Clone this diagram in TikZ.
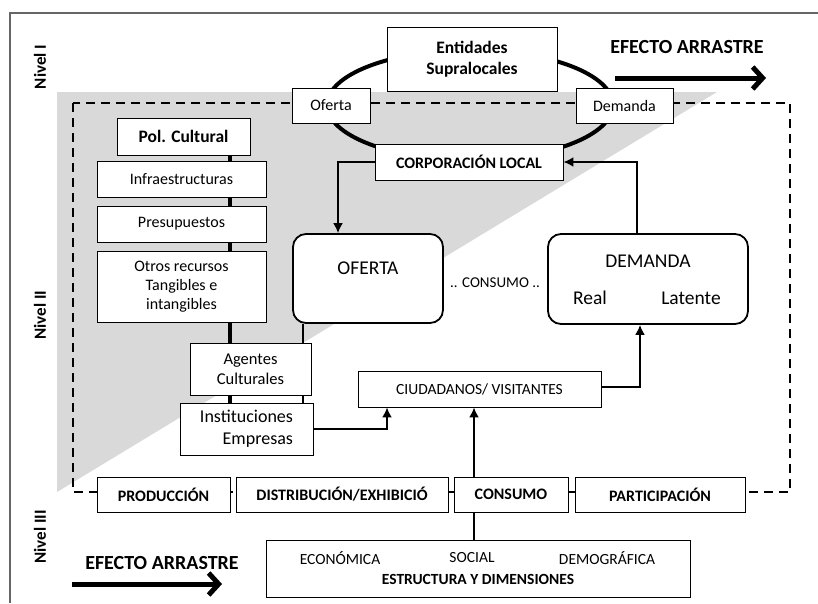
\documentclass[tikz,border=0pt]{standalone}
\usepackage{fontspec}
\setmainfont{Carlito}
\usetikzlibrary{arrows.meta,calc}
\pgfdeclarelayer{back}
\pgfdeclarelayer{mid}
\pgfsetlayers{back,mid,main}
\newcommand{\fsz}[1]{\fontsize{#1}{1.2\dimexpr#1pt\relax}\selectfont}
\newcommand{\fszb}[2]{\fontsize{#1}{#2}\selectfont}
\tikzset{
  box/.style={draw, fill=white, line width=0.9pt, inner sep=0pt, align=center, font=\fsz{16}},
  bbox/.style={box, font=\bfseries\fsz{16}},
  rbox/.style={draw, fill=white, line width=1.8pt, rounded corners=13pt, inner sep=0pt},
  conn/.style={line width=1.8pt, -{Latex[length=10pt,width=10pt]}},
  plain/.style={line width=1.8pt},
  thickln/.style={line width=4.5pt},
  drag/.style={line width=5pt, -{Straight Barb[length=10pt,width=22pt,line width=5pt]}},
  lvl/.style={rotate=90, font=\bfseries\fsz{17}},
  eff/.style={font=\bfseries\fsz{20}},
}
\begin{document}
\begin{tikzpicture}[x=1pt,y=-1pt]
\useasboundingbox (0,0) rectangle (818,603);

% frame (top and left edges)
\draw[gray!80!black, line width=1.5pt] (10,603) -- (10,13) -- (818,13);

% levels
\node[lvl] (n1) at (40,67) {Nivel I};
\node[lvl] (n2) at (40,315) {Nivel II};
\node[lvl] (n3) at (40,537) {Nivel III};

% grey triangle
\begin{pgfonlayer}{back}
\fill[gray!30] (57,92) -- (717,92) -- (57,492) -- cycle;
\end{pgfonlayer}

% dashed frame and ellipse
\begin{pgfonlayer}{mid}
\draw[line width=1.8pt, dash pattern=on 9pt off 6pt] (73,103) rectangle (790,492);
\draw[line width=4pt] (470,105) ellipse [x radius=143, y radius=55];
\end{pgfonlayer}

% Nivel I
\node[bbox, font=\bfseries\fsz{17.5}, minimum width=170pt, minimum height=64pt] (ent) at (472,59) {Entidades\\Supralocales};
\node[box, minimum width=78pt, minimum height=35pt] (ofs) at (331,105.5) {Oferta};
\node[box, minimum width=97pt, minimum height=35pt] (dms) at (624.5,105.5) {Demanda};
\node[bbox, minimum width=188pt, minimum height=36pt] (corp) at (469,162) {CORPORACIÓN LOCAL};

\node[eff] (ea1) at (687,47) {EFECTO ARRASTRE};
\coordinate (ea1s) at (615,78);
\coordinate (ea1e) at (766,78);
\draw[drag] (ea1s) -- (ea1e);

% left column
\node[bbox, font=\bfseries\fsz{17.5}, minimum width=133pt, minimum height=37pt] (pol) at (183.5,136.5) {Pol. Cultural};
\node[box, minimum width=169pt, minimum height=36pt] (infra) at (181.5,179) {Infraestructuras};
\node[box, minimum width=169pt, minimum height=36pt] (presu) at (181.5,224) {Presupuestos};
\node[box, minimum width=169pt, minimum height=71pt, font={\fszb{16}{19}}] (otros) at (181.5,287) {Otros recursos\\Tangibles e\\intangibles};
\node[box, font=\fsz{16.5}, minimum width=121pt, minimum height=52pt] (agen) at (250.5,369) {Agentes\\Culturales};
\node[box, font=\fsz{18}, align=right, minimum width=133pt, minimum height=52pt] (inst) at (246.5,429) {Instituciones\\Empresas};

\coordinate (px) at (230,0);
\coordinate (ox) at (303,0);

% big boxes
\node[rbox, minimum width=150pt, minimum height=89pt] (ofe) at (368,278.5) {};
\node[font=\fsz{19.5}] (ofet) at (368,268) {OFERTA};
\node[rbox, minimum width=200pt, minimum height=90pt] (dem) at (648,279) {};
\node[font=\fsz{19.5}] (demt) at (648,261) {DEMANDA};
\node[font=\fsz{19.5}] (real) at (590,298) {Real};
\node[font=\fsz{19.5}] (lat) at (691,298) {Latente};
\node[font=\fsz{15}] (cons0) at (495,283) {.. CONSUMO ..};

\node[box, font=\fsz{15.5}, minimum width=243pt, minimum height=36pt] (ciud) at (479.5,389) {CIUDADANOS/ VISITANTES};

% bottom row
\node[bbox, minimum width=133pt, minimum height=35pt] (prod) at (163.5,494.5) {PRODUCCIÓN};
\node[bbox, minimum width=212pt, minimum height=35pt] (dist) at (342,494.5) {DISTRIBUCIÓN/EXHIBICIÓ};
\node[bbox, minimum width=114pt, minimum height=35pt] (cons) at (511,494.5) {CONSUMO};
\node[bbox, minimum width=170pt, minimum height=35pt] (part) at (660,494.5) {PARTICIPACIÓN};

\node[box, minimum width=424pt, minimum height=57pt] (estr) at (478,568.5) {};
\node[font=\fsz{15.5}] (eco) at (340,558) {ECONÓMICA};
\node[font=\fsz{15.5}] (soc) at (472,558) {SOCIAL};
\node[font=\fsz{15.5}] (demo) at (607,558) {DEMOGRÁFICA};
\node[font=\bfseries\fsz{15.5}] (estrt) at (478,579) {ESTRUCTURA Y DIMENSIONES};

\node[eff] (ea2) at (162,563) {EFECTO ARRASTRE};
\coordinate (ea2s) at (72,584);
\coordinate (ea2e) at (222,584);
\draw[drag] (ea2s) -- (ea2e);

\coordinate (cx1) at (338,0);
\coordinate (cx2) at (637,0);
\coordinate (cx3) at (640,0);
\coordinate (cx4) at (387,0);
\coordinate (cx5) at (474,0);

\begin{pgfonlayer}{mid}
\draw[thickln] (pol.south -| px) -- (inst.north -| px);
\draw[plain] (ofe.south -| ox) -- (inst.north -| ox);
\draw[conn] (estr.north -| cx5) -- (ciud.south -| cx5);
\end{pgfonlayer}

% connectors
\draw[conn] (corp.west) -| (ofe.north -| cx1);
\draw[conn] (dem.north -| cx2) |- (corp.east);
\draw[conn] ([yshift=2pt]ciud.east) -| (dem.south -| cx3);
\draw[conn] (inst.east) -| (ciud.south -| cx4);
\end{tikzpicture}
\end{document}
